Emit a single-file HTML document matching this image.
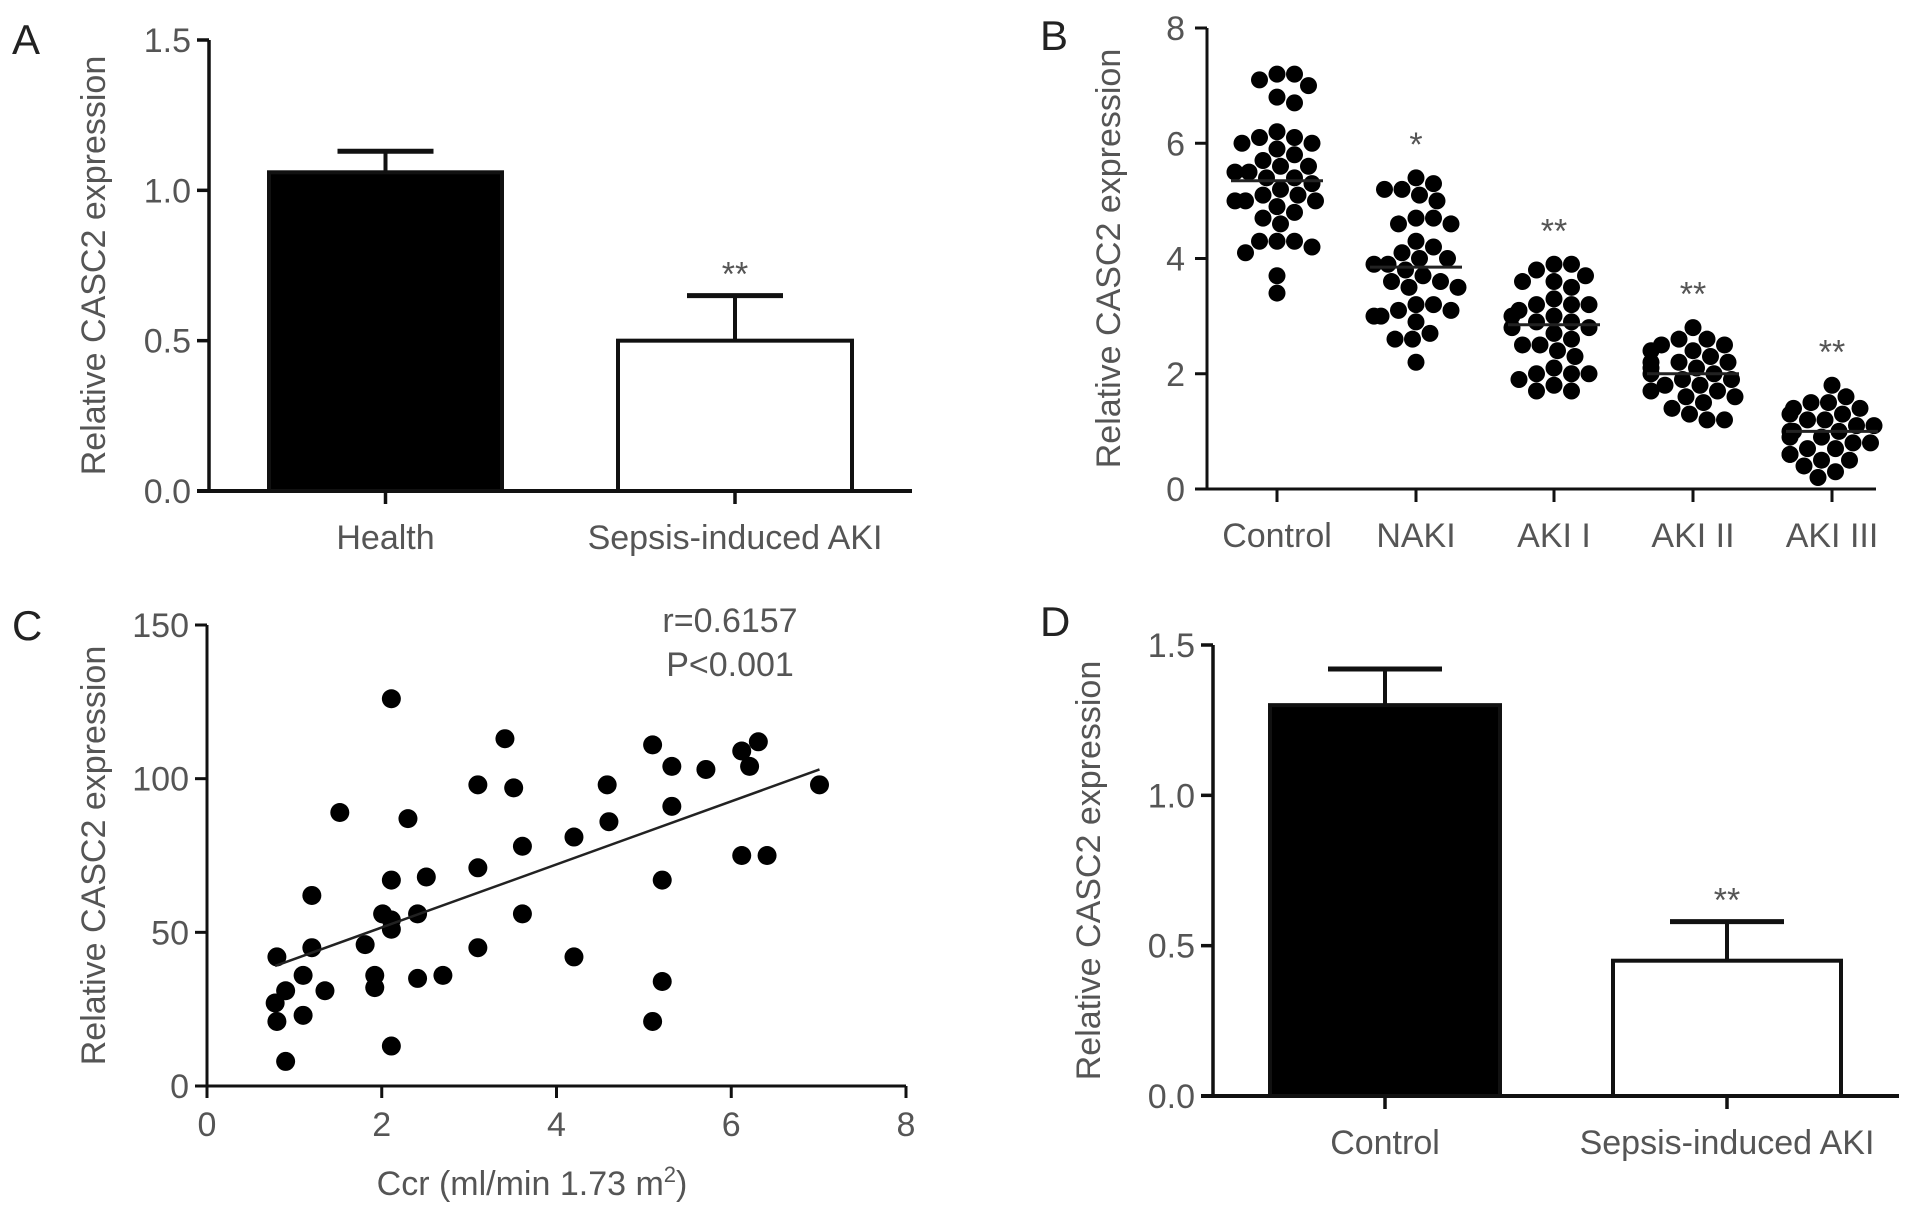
<!DOCTYPE html>
<html><head><meta charset="utf-8"><style>
html,body{margin:0;padding:0;background:#fff;}
svg{display:block;font-family:"Liberation Sans",sans-serif;}
.t{fill:#555;font-size:34px;}
.ttl{fill:#555;font-size:34px;}
.lt{fill:#222;font-size:42px;}
</style></head><body>
<svg id="fig" width="1913" height="1213" viewBox="0 0 1913 1213"></svg>
<script>
// Panel A data
const aCats = ["Health", "Sepsis-induced AKI"];
const aMeans = [1.06, 0.50];
const aErr = [0.07, 0.15];
const aTicks = [0, 0.5, 1.0, 1.5];
const aTickLabels = ["0.0", "0.5", "1.0", "1.5"];
const aSig = ["", "**"];
// Panel B data
const bCats = ["Control", "NAKI", "AKI I", "AKI II", "AKI III"];
const bSig = ["", "*", "**", "**", "**"];
const bMeans = [5.35, 3.85, 2.85, 2.0, 1.0];
const bTicks = [0, 2, 4, 6, 8];
const bControl = [7.2,7.2,7.1,7.0,6.8,6.7,6.2,6.1,6.1,6.0,6.0,5.9,5.8,5.7,5.6,5.6,5.5,5.5,5.4,5.4,5.3,5.2,5.1,5.1,5.0,5.0,5.0,4.9,4.8,4.7,4.6,4.3,4.3,4.3,4.2,4.1,3.7,3.4];
const bNAKI = [5.4,5.3,5.2,5.2,5.1,5.0,4.7,4.7,4.6,4.6,4.3,4.2,4.1,4.0,4.0,3.9,3.9,3.8,3.7,3.6,3.6,3.5,3.5,3.2,3.2,3.1,3.1,3.0,3.0,2.9,2.7,2.6,2.6,2.2];
const bAKI1 = [3.9,3.9,3.8,3.7,3.6,3.6,3.5,3.3,3.2,3.2,3.2,3.1,3.0,3.0,2.9,2.9,2.8,2.8,2.7,2.6,2.5,2.5,2.4,2.3,2.1,2.0,2.0,2.0,1.9,1.8,1.7,1.7];
const bAKI2 = [2.8,2.6,2.6,2.5,2.5,2.4,2.4,2.3,2.2,2.2,2.2,2.1,2.1,2.0,2.0,1.9,1.9,1.8,1.8,1.7,1.7,1.6,1.6,1.5,1.4,1.3,1.2,1.2];
const bAKI3 = [1.8,1.6,1.5,1.5,1.4,1.4,1.3,1.3,1.2,1.2,1.1,1.1,1.0,1.0,1.0,0.9,0.9,0.8,0.8,0.7,0.7,0.6,0.6,0.5,0.5,0.4,0.3,0.2];
// Panel C data
const cX = [0.8,0.9,0.78,0.8,0.9,1.1,1.1,1.2,1.2,1.35,1.52,1.81,1.92,1.92,2.01,2.11,2.11,2.11,2.11,2.11,2.3,2.41,2.41,2.51,2.7,3.1,3.1,3.1,3.41,3.51,3.61,3.61,4.2,4.2,4.58,4.6,5.1,5.1,5.21,5.21,5.32,5.32,5.71,6.12,6.12,6.21,6.31,6.41,7.01];
const cY = [42,31,27,21,8,36,23,45,62,31,89,46,36,32,56,67,126,51,54,13,87,56,35,68,36,98,71,45,113,97,78,56,81,42,98,86,111,21,67,34,104,91,103,109,75,104,112,75,98];
const cXTicks = [0, 2, 4, 6, 8];
const cYTicks = [0, 50, 100, 150];
// Panel D data
const dCats = ["Control", "Sepsis-induced AKI"];
const dMeans = [1.30, 0.45];
const dErr = [0.12, 0.13];
const dSig = ["", "**"];

const NS = "http://www.w3.org/2000/svg";
const svg = document.getElementById("fig");
function el(tag, attrs, parent, text) {
  const e = document.createElementNS(NS, tag);
  for (const k in attrs) e.setAttribute(k, attrs[k]);
  if (text !== undefined) e.textContent = text;
  (parent || svg).appendChild(e);
  return e;
}
function line(x1,y1,x2,y2,w,p){return el("line",{x1,y1,x2,y2,stroke:"#111","stroke-width":w||3.5},p);}

function yTitle(x, yc, p) {
  const t = el("text",{x:0,y:0,class:"ttl","text-anchor":"middle",transform:`translate(${x},${yc}) rotate(-90)`},p,"Relative CASC2 expression");
  
  
}
function letter(x,y,s){
  const t = el("text",{x,y,class:"lt"},svg,s);
  
  
}

function barPanel(cfg) {
  const g = el("g",{});
  
  
  const ys = v => cfg.y0 - (cfg.y0 - cfg.yTop) * v / 1.5;
  cfg.means.forEach((m, i) => {
    const [bx1, bx2] = cfg.bars[i];
    const cx = (bx1 + bx2) / 2;
    const r = el("rect",{x:bx1,y:ys(m),width:bx2-bx1,height:cfg.y0-ys(m),fill:i===0?"#000":"#fff",stroke:"#111","stroke-width":4},g);
    
    
    const top = ys(m + cfg.err[i]);
    const e1 = line(cx, ys(m), cx, top, 4, g);
    
    
    const e2 = line(cx - cfg.cap, top, cx + cfg.cap, top, 5, g);
    
    
    if (cfg.sig[i]) {
      const s = el("text",{x:cx,y:top-10,class:"t","text-anchor":"middle","font-size":28},g,cfg.sig[i]);
      
      
    }
    const tk = line(cx, cfg.y0, cx, cfg.y0 + 13, 3.5, g);
    
    
    const lb = el("text",{x:cx,y:cfg.y0+58,class:"t","text-anchor":"middle"},g,cfg.cats[i]);
    
    
  });
  const ya = line(cfg.ax, cfg.yTop, cfg.ax, cfg.y0, 3.5, g);
  
  
  const xa = line(cfg.ax - 12, cfg.y0, cfg.xEnd, cfg.y0, 4, g);
  
  
  aTicks.forEach((v, i) => {
    const tk = line(cfg.ax - 12, ys(v), cfg.ax, ys(v), 3.5, g);
    
    
    const tl = el("text",{x:cfg.ax-18,y:ys(v)+12,class:"t","text-anchor":"end"},g,aTickLabels[i]);
    
    
  });
  yTitle(cfg.titleX, (cfg.yTop + cfg.y0) / 2, g);
}

letter(12, 54, "A");
barPanel({name:"panel-a-bar-chart", ax:209, y0:491, yTop:40, xEnd:912, bars:[[269,502],[618,852]], means:aMeans, err:aErr, cats:aCats, sig:aSig, cap:48, titleX:105});

letter(1040, 50, "B");
(function(){
  const g = el("g",{});
  
  
  const ax = 1207, y0 = 489, yTop = 28, xEnd = 1876;
  const cx = [1277, 1416, 1554, 1693, 1832];
  const ys = v => y0 - (y0 - yTop) * v / 8;
  const groups = [bControl, bNAKI, bAKI1, bAKI2, bAKI3];
  const R = 8.5;
  groups.forEach((vals, gi) => {
    const placed = [];
    vals.forEach(v => {
      const y = ys(v);
      let best = 0;
      const cands = [0];
      for (let k = 1; k <= 12; k++) { cands.push(k * 3.5, -k * 3.5); }
      for (const off of cands) {
        if (placed.every(p => Math.hypot(p[0] - off, p[1] - y) >= 2 * R * 0.95)) { best = off; break; }
        best = off;
      }
      placed.push([best, y]);
      const c = el("circle",{cx:cx[gi] + best, cy:y, r:R, fill:"#000"},g);
      
      
    });
    const m = el("line",{x1:cx[gi]-46,y1:ys(bMeans[gi]),x2:cx[gi]+46,y2:ys(bMeans[gi]),stroke:"#222","stroke-width":3},g);
    
    
    if (bSig[gi]) {
      const top = ys(Math.max(...vals));
      const s = el("text",{x:cx[gi],y:top-22,class:"t","text-anchor":"middle","font-size":28},g,bSig[gi]);
      
      
    }
    const tk = line(cx[gi], y0, cx[gi], y0 + 13, 3, g);
    
    
    const lb = el("text",{x:cx[gi],y:y0+58,class:"t","text-anchor":"middle"},g,bCats[gi]);
    
    
  });
  const ya = line(ax, yTop, ax, y0, 3, g);
  
  
  const xa = line(ax - 12, y0, xEnd, y0, 3, g);
  
  
  bTicks.forEach(v => {
    const tk = line(ax - 12, ys(v), ax, ys(v), 3, g);
    
    
    const tl = el("text",{x:ax-22,y:ys(v)+12,class:"t","text-anchor":"end"},g,String(v));
    
    
  });
  yTitle(1120, (yTop + y0) / 2, g);
})();

letter(12, 640, "C");
(function(){
  const g = el("g",{});
  
  
  const ax = 207, y0 = 1086, yTop = 625, x8 = 906;
  const xs = v => ax + (x8 - ax) * v / 8;
  const ys = v => y0 - (y0 - yTop) * v / 150;
  cX.forEach((x, i) => {
    const c = el("circle",{cx:xs(x), cy:ys(cY[i]), r:9.5, fill:"#000"},g);
    
    
  });
  const n = cX.length;
  const mx = cX.reduce((a,b)=>a+b,0)/n, my = cY.reduce((a,b)=>a+b,0)/n;
  let sxy = 0, sxx = 0;
  cX.forEach((x,i)=>{ sxy += (x-mx)*(cY[i]-my); sxx += (x-mx)*(x-mx); });
  const b = sxy / sxx, a = my - b * mx;
  const x1 = Math.min(...cX), x2 = Math.max(...cX);
  const rl = el("line",{x1:xs(x1),y1:ys(a+b*x1),x2:xs(x2),y2:ys(a+b*x2),stroke:"#222","stroke-width":2.5},g);
  
  
  const ya = line(ax, yTop, ax, y0, 3, g);
  
  
  const xa = line(ax - 12, y0, x8, y0, 3, g);
  
  
  cYTicks.forEach(v => {
    const tk = line(ax - 12, ys(v), ax, ys(v), 3, g);
    
    
    const tl = el("text",{x:ax-18,y:ys(v)+12,class:"t","text-anchor":"end"},g,String(v));
    
    
  });
  cXTicks.forEach(v => {
    const tk = line(xs(v), y0, xs(v), y0 + 12, 3, g);
    
    
    const tl = el("text",{x:xs(v),y:y0+50,class:"t","text-anchor":"middle"},g,String(v));
    
    
  });
  yTitle(105, (yTop + y0) / 2, g);
  const xt = el("text",{x:532,y:1195,class:"ttl","text-anchor":"middle"},g);
  
  
  xt.innerHTML = 'Ccr (ml/min 1.73 m<tspan dy="-13" font-size="22">2</tspan><tspan dy="13">)</tspan>';
  const r1 = el("text",{x:730,y:632,class:"t","text-anchor":"middle"},g,"r=0.6157");
  
  
  const r2 = el("text",{x:730,y:676,class:"t","text-anchor":"middle"},g,"P<0.001");
  
  
})();

letter(1040, 636, "D");
barPanel({name:"panel-d-bar-chart", ax:1213, y0:1096, yTop:645, xEnd:1899, bars:[[1270,1500],[1613,1841]], means:dMeans, err:dErr, cats:dCats, sig:dSig, cap:57, titleX:1100});
</script>
</body></html>
